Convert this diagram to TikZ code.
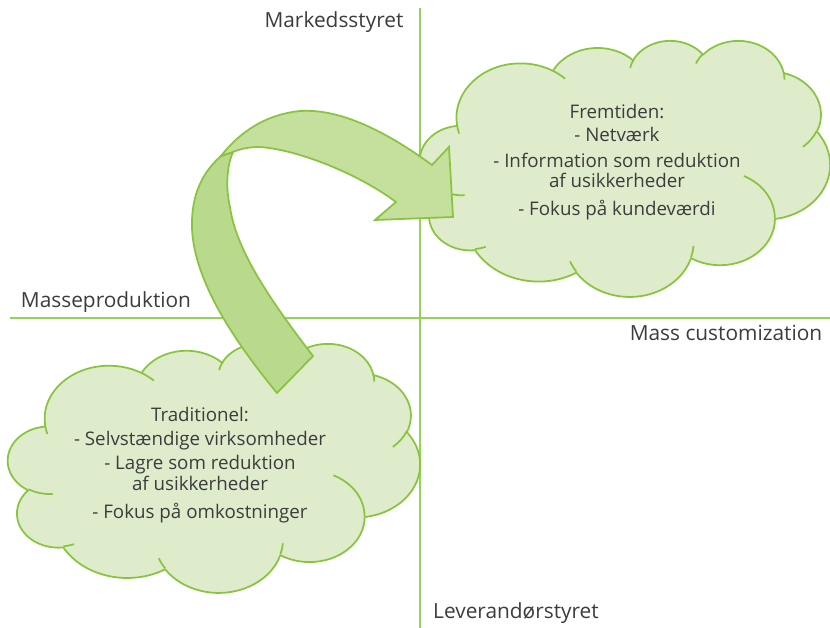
\documentclass[tikz,border=0pt]{standalone}
\usepackage{fontspec}
\setmainfont{Open Sans}
\usepackage{tikz}
\definecolor{axisgreen}{RGB}{150,210,90}
\definecolor{leafline}{RGB}{137,196,64}
\definecolor{cloudfill}{RGB}{223,236,204}
\definecolor{bandlight}{RGB}{197,224,157}
\definecolor{banddark}{RGB}{185,217,140}
\definecolor{inktext}{RGB}{60,60,60}

\pgfmathdeclarefunction{ptang}{3}{%
  \begingroup
    \pgfmathparse{atan2((#1)*sin(#3),(#2)*cos(#3))}%
    \let\ptangt\pgfmathresult
    \pgfmathparse{\ptangt+360*round(((#3)-\ptangt)/360)}%
    \pgfmathsmuggle\pgfmathresult
  \endgroup}

\tikzset{
  puff/.style n args={4}{x radius=#1,y radius=#2,
    start angle={ptang(#1,#2,#3)},end angle={ptang(#1,#2,#3+#4)}}
}

\newcommand\puffcloud[4]{%
  \begin{scope}[shift={(#1,#2)},xscale=#3/432,yscale=#4/432]
    \draw[cloudline,fill=cloudfill] (39.00,143.70)
      arc[puff={67.53}{91.90}{-190.4875}{123.7805}]
      arc[puff={53.33}{72.67}{-144.1024}{89.9452}]
      arc[puff={43.65}{59.45}{-145.8079}{99.7230}]
      arc[puff={48.57}{65.95}{-130.9861}{117.2417}]
      arc[puff={53.33}{72.73}{-78.7089}{109.0269}]
      arc[puff={67.75}{92.20}{-46.2673}{130.2690}]
      arc[puff={57.85}{78.67}{0.6250}{114.0333}]
      arc[puff={67.52}{92.15}{22.4516}{115.1726}]
      arc[puff={77.20}{105.43}{66.2426}{75.7110}]
      arc[puff={43.60}{59.18}{-274.9421}{146.7356}]
      arc[puff={43.45}{59.45}{-246.8285}{152.5189}]
      -- cycle;
    \draw[cloudline]
      (46.93,261.77) arc[puff={43.45}{59.45}{86.7420}{26.4295}]
      (69.28,348.99) arc[puff={43.60}{59.18}{73.6105}{11.4475}]
      (164.78,390.90) arc[puff={67.52}{92.15}{137.6242}{14.0811}]
      (288.27,347.51) arc[puff={67.52}{92.15}{6.4533}{15.9984}]
      (341.29,229.54) arc[puff={57.85}{78.67}{-70.2924}{70.9174}]
      (417.98,153.54) arc[puff={53.33}{72.73}{30.3180}{27.7515}]
      (383.24,54.26) arc[puff={48.57}{65.95}{-13.7443}{14.8589}]
      (290.78,39.52) arc[puff={48.57}{65.95}{-149.1815}{18.1954}]
      (221.41,47.20) arc[puff={43.65}{59.45}{-163.4943}{17.6864}]
      (140.00,51.92) arc[puff={67.53}{91.90}{-66.7070}{12.3194}]
      (41.27,157.89) arc[puff={67.53}{91.90}{157.6544}{11.8582}];
  \end{scope}}

\begin{document}
\begin{tikzpicture}[
  x=0.03cm,y=-0.03cm,
  axis/.style={axisgreen,line width=1.1pt},
  cloudline/.style={leafline,line width=1.5pt,line join=round},
  band/.style={leafline,line width=1.5pt,line join=miter},
  axlabel/.style={inktext,font=\fontsize{17.8}{18}\selectfont,anchor=base,inner sep=0pt},
  note/.style={inktext,font=\fontsize{16}{17}\selectfont,align=center,anchor=north,inner sep=0pt}
]
\useasboundingbox (0,0) rectangle (830,628);
\coordinate (ytop) at (420,8);
\coordinate (ybot) at (420,628);
\coordinate (xleft) at (10,318);
\coordinate (xright) at (830,318);
\draw[axis] (ytop) -- (ybot);
\draw[axis] (xleft) -- (xright);

\node[axlabel] (marked) at (334,28) {Markedsstyret};
\node[axlabel] (masse) at (106,308) {Masseproduktion};
\node[axlabel] (custom) at (726,341) {Mass customization};
\node[axlabel] (lever) at (516,618) {Leverandørstyret};

\puffcloud{420}{40}{410}{256}
\puffcloud{8}{343}{412}{249}

\node[note] (future) at (617,104) {Fremtiden:\\[2.9pt]- Netværk\\[4.8pt]- Information som reduktion\\af usikkerheder\\[7.4pt]- Fokus på kundeværdi};
\node[note] (trad) at (200,407) {Traditionel:\\[3.4pt]- Selvstændige virksomheder\\[3.7pt]- Lagre som reduktion\\[0.6pt]af usikkerheder\\[7.3pt]- Fokus på omkostninger};

\coordinate (tailL) at (277,393);
\coordinate (tailR) at (313,356);
\coordinate (foldL) at (221,156);
\coordinate (foldR) at (233,152);
\coordinate (notchU) at (432,165);
\coordinate (barbU) at (449,147);
\coordinate (tip) at (453,217);
\coordinate (barbL) at (375,220);
\coordinate (notchL) at (396,202);
\draw[band,fill=banddark] (tailL) .. controls (225,330) and (190,270) .. (192,220)
  .. controls (193,190) and (205,170) .. (foldL) -- (foldR)
  .. controls (226,168) and (226,190) .. (230,207)
  .. controls (236,250) and (270,300) .. (tailR) -- cycle;
\draw[band,fill=bandlight] (foldL) .. controls (235,138) and (260,115) .. (300,111)
  .. controls (345,108) and (395,138) .. (notchU) -- (barbU) -- (tip) -- (barbL) -- (notchL)
  .. controls (360,175) and (300,150) .. (260,147)
  .. controls (248,147) and (240,149) .. (foldR) -- cycle;
\end{tikzpicture}
\end{document}
